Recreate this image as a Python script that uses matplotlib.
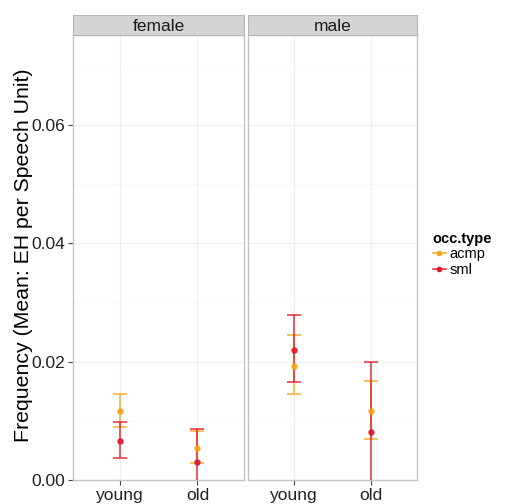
"""Faceted error-bar plot of EH frequency by age, sex and occurrence type."""
import matplotlib
matplotlib.use("Agg")
import matplotlib.pyplot as plt
from matplotlib.lines import Line2D
from matplotlib.ticker import MultipleLocator, FormatStrFormatter

plt.rcParams['font.family'] = ['Liberation Sans', 'DejaVu Sans']

sexes = ["female", "male"]
ages = ["young", "old"]
occ_types = ["acmp", "sml"]
colors = {"acmp": "#F9A51B", "sml": "#E2182B"}

# means and CI bounds, per sex: [young, old]
acmp_mean = [[0.0116, 0.0054], [0.0192, 0.0117]]
acmp_lo = [[0.0089, 0.0028], [0.0145, 0.0069]]
acmp_hi = [[0.0145, 0.0083], [0.0245, 0.0168]]
sml_mean = [[0.0066, 0.0030], [0.0220, 0.0081]]
sml_lo = [[0.0037, -0.0026], [0.0165, -0.0038]]
sml_hi = [[0.0098, 0.0086], [0.0278, 0.0200]]

series = {
    "acmp": (acmp_mean, acmp_lo, acmp_hi),
    "sml": (sml_mean, sml_lo, sml_hi),
}

fig = plt.figure(figsize=(5.05, 5.04), dpi=100)
border = "#C4C4C4"
panel_x = [(0.1446, 0.3386), (0.4911, 0.3347)]
bottom, height = 0.0476, 0.883

for i, sex in enumerate(sexes):
    left, width = panel_x[i]
    ax = fig.add_axes([left, bottom, width, height])
    for occ in occ_types:
        mean, lo, hi = series[occ]
        m = mean[i]
        yerr = [[m[j] - lo[i][j] for j in range(2)], [hi[i][j] - m[j] for j in range(2)]]
        ax.errorbar(ages, m, yerr=yerr, fmt="o", color=colors[occ], ms=3.6,
                    elinewidth=1.1, capsize=5, capthick=1.1, alpha=0.9, zorder=3)
    ax.set_xlim(-0.6, 1.6)
    ax.set_ylim(0, 0.0752)
    ax.yaxis.set_major_locator(MultipleLocator(0.02))
    ax.yaxis.set_minor_locator(MultipleLocator(0.01))
    ax.grid(True, which="major", color="#F0F0F0", lw=0.9)
    ax.grid(True, which="minor", axis="y", color="#F7F7F7", lw=0.6)
    ax.set_axisbelow(True)
    for s in ax.spines.values():
        s.set_color(border)
        s.set_linewidth(1.0)
    ax.tick_params(axis="both", length=3.5, color="#444444", labelsize=12.5,
                   labelcolor="#222222", pad=2, which="major")
    ax.tick_params(which="minor", length=0)
    if i == 0:
        ax.yaxis.set_major_formatter(FormatStrFormatter("%.2f"))
        ax.set_ylabel("Frequency (Mean: EH per Speech Unit)", fontsize=15.3)
        ax.yaxis.set_label_coords(-0.234, 0.506)
    else:
        ax.tick_params(axis="y", left=False, labelleft=False)
    # facet strip
    strip = fig.add_axes([left, bottom + height, width, 0.039])
    strip.set_facecolor("#D4D4D4")
    strip.set_xticks([])
    strip.set_yticks([])
    for s in strip.spines.values():
        s.set_color("#B5B5B5")
    strip.text(0.5, 0.45, sex, ha="center", va="center", fontsize=12.5, color="#1A1A1A")

handles = [Line2D([0], [0], color=colors[o], marker="o", ms=3, lw=1.1) for o in occ_types]
leg = fig.legend(handles, occ_types, loc="upper left", bbox_to_anchor=(0.857, 0.54),
                 frameon=False, fontsize=10.5, title="occ.type", handlelength=0.9,
                 handletextpad=0.25, labelspacing=0.1, borderpad=0, borderaxespad=0,
                 alignment="left")
leg.get_title().set_fontweight("bold")
leg.get_title().set_fontsize(10.5)

fig.savefig("out.png", dpi=100)
